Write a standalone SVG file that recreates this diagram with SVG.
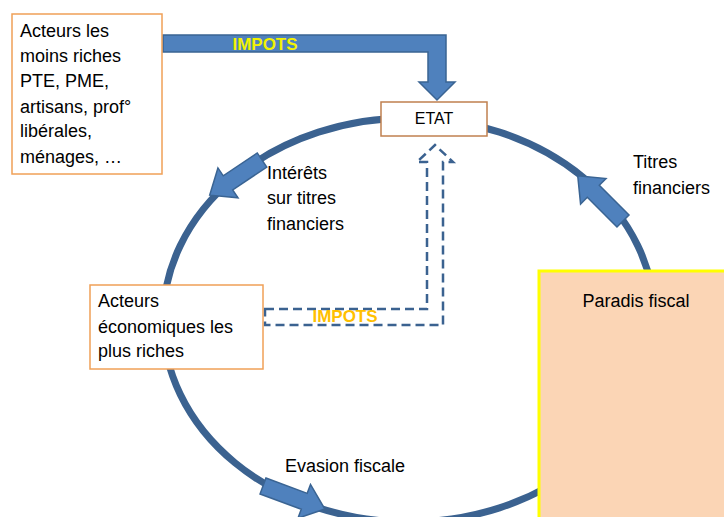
<svg xmlns="http://www.w3.org/2000/svg" width="724" height="517" viewBox="0 0 724 517">
<style>
.t{font-family:"Liberation Sans",Arial,sans-serif;font-size:18px;fill:#000}
.box{fill:#fff;stroke:#f0a057;stroke-width:1.5}
.blk{fill:#4f81bd;stroke:#3a6493;stroke-width:1.5}
.imp{font-family:"Liberation Sans",Arial,sans-serif;font-weight:bold;font-size:17px}
</style>
<rect width="724" height="517" fill="#fff"/>
<g id="connectors">
<ellipse cx="409" cy="320" rx="246" ry="202" fill="none" stroke="#3b6290" stroke-width="7"/>
<polygon class="blk" transform="translate(262,160) rotate(146.1)" points="0,-8.5 41,-8.5 41,-18 63,0 41,18 41,8.5 0,8.5"/>
<polygon class="blk" transform="translate(623,221) rotate(225)" points="0,-8.5 42,-8.5 42,-18 64,0 42,18 42,8.5 0,8.5"/>
<polygon class="blk" transform="translate(263,486) rotate(20.4)" points="0,-8.5 44,-8.5 44,-18 66,0 44,18 44,8.5 0,8.5"/>
<polygon class="blk" points="163,35 446,35 446,82 455,82 437,100 419,82 428,82 428,52 163,52"/>
<path d="M265,309 L427,309 L427,162 L417,162 L435,145 L453,162 L443,162 L443,325 L265,325 Z" fill="none" stroke="#3b6290" stroke-width="2.5" stroke-dasharray="9,5"/>
<text class="imp" x="265" y="50" text-anchor="middle" fill="#f2f200">IMPOTS</text>
<text class="imp" x="345" y="322" text-anchor="middle" fill="#ffc000">IMPOTS</text>
<text class="t" x="267" y="179">Intérêts</text>
<text class="t" x="267" y="204">sur titres</text>
<text class="t" x="267" y="230">financiers</text>
<text class="t" x="633" y="168">Titres</text>
<text class="t" x="633" y="194">financiers</text>
<text class="t" x="285" y="472">Evasion fiscale</text>
</g>
<g id="moins-riches">
<rect class="box" x="12" y="14" width="150" height="160"/>
<text class="t" x="20" y="37">Acteurs les</text>
<text class="t" x="20" y="62">moins riches</text>
<text class="t" x="20" y="87">PTE, PME,</text>
<text class="t" x="20" y="113">artisans, prof°</text>
<text class="t" x="20" y="137">libérales,</text>
<text class="t" x="20" y="163">ménages, …</text>
</g>
<g id="etat">
<rect x="381" y="102" width="106" height="34" fill="#fff" stroke="#c0804f" stroke-width="1.5"/>
<text class="t" x="434" y="124" text-anchor="middle" style="font-size:16px">ETAT</text>
</g>
<g id="plus-riches">
<rect class="box" x="90" y="285" width="173" height="84"/>
<text class="t" x="98" y="307">Acteurs</text>
<text class="t" x="98" y="333">économiques les</text>
<text class="t" x="98" y="357">plus riches</text>
</g>
<g id="paradis">
<rect x="539" y="271" width="200" height="260" fill="#fbd5b5" stroke="#ffff00" stroke-width="3"/>
<text class="t" x="636" y="307" text-anchor="middle">Paradis fiscal</text>
</g>
</svg>
